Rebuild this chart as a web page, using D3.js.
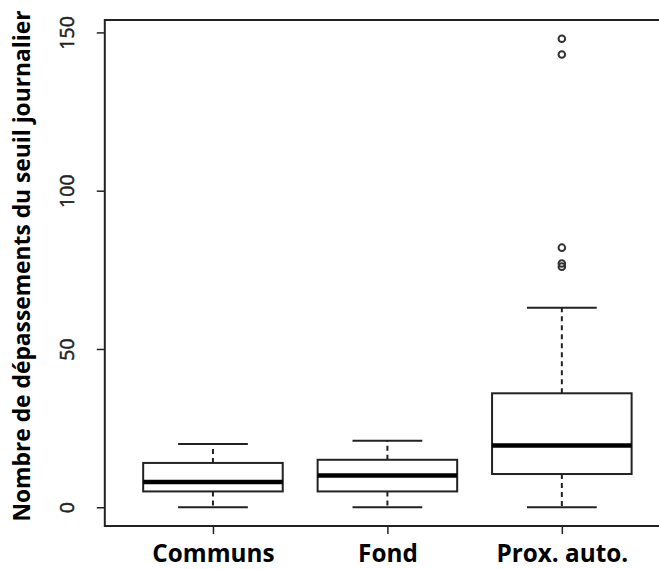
<!DOCTYPE html>
<html>
<head>
<meta charset="utf-8">
<script src="https://cdn.jsdelivr.net/npm/d3@7"></script>
<style>
  body { margin: 0; background: #fff; }
  svg { display: block; }
</style>
</head>
<body>
<div id="chart"></div>
<script>
// values
var categories = ["Communs", "Fond", "Prox. auto."];
var whiskerLow = [0, 0, 0];
var q1 = [5, 5, 10.5];
var medians = [8, 10, 19.5];
var q3 = [14, 15, 36];
var whiskerHigh = [20, 21, 63];
var outliers = [[], [], [148, 143, 82, 77, 76]];
var yTicks = [0, 50, 100, 150];

var width = 659, height = 569;
var ink = "#222";

var svg = d3.select("#chart").append("svg")
  .attr("width", width)
  .attr("height", height);

// R style: boxes at 1..n, xlim 0.5..n+0.5 padded 4%
var n = categories.length;
var xpad = n * 0.04;
var x = d3.scaleLinear()
  .domain([0.5 - xpad, n + 0.5 + xpad])
  .range([104.8, 670]);

var ypad = 148 * 0.04;
var y = d3.scaleLinear()
  .domain([0 - ypad, 148 + ypad])
  .range([526, 20]);

var boxWex = 0.8, capWex = 0.4;

var boxes = categories.map(function(c, i) {
  return {name: c, pos: i + 1, lo: whiskerLow[i], q1: q1[i], med: medians[i], q3: q3[i], hi: whiskerHigh[i], out: outliers[i]};
});

var g = svg.selectAll(".box")
  .data(boxes)
  .enter().append("g")
  .attr("class", "box");

// dashed whiskers
g.append("line")
  .attr("x1", function(d) { return x(d.pos); })
  .attr("x2", function(d) { return x(d.pos); })
  .attr("y1", function(d) { return y(d.q3); })
  .attr("y2", function(d) { return y(d.hi); })
  .style("stroke", ink).style("stroke-width", 2).style("stroke-dasharray", "5,4");
g.append("line")
  .attr("x1", function(d) { return x(d.pos); })
  .attr("x2", function(d) { return x(d.pos); })
  .attr("y1", function(d) { return y(d.q1); })
  .attr("y2", function(d) { return y(d.lo); })
  .style("stroke", ink).style("stroke-width", 2).style("stroke-dasharray", "5,4");

// caps
["lo", "hi"].forEach(function(k) {
  g.append("line")
    .attr("x1", function(d) { return x(d.pos - capWex / 2); })
    .attr("x2", function(d) { return x(d.pos + capWex / 2); })
    .attr("y1", function(d) { return y(d[k]); })
    .attr("y2", function(d) { return y(d[k]); })
    .style("stroke", ink).style("stroke-width", 2);
});

// box
g.append("rect")
  .attr("x", function(d) { return x(d.pos - boxWex / 2); })
  .attr("width", function(d) { return x(d.pos + boxWex / 2) - x(d.pos - boxWex / 2); })
  .attr("y", function(d) { return y(d.q3); })
  .attr("height", function(d) { return y(d.q1) - y(d.q3); })
  .style("fill", "#fff").style("stroke", ink).style("stroke-width", 2);

// median
g.append("line")
  .attr("x1", function(d) { return x(d.pos - boxWex / 2); })
  .attr("x2", function(d) { return x(d.pos + boxWex / 2); })
  .attr("y1", function(d) { return y(d.med); })
  .attr("y2", function(d) { return y(d.med); })
  .style("stroke", "#000").style("stroke-width", 4.5);

// outliers
g.selectAll(".out")
  .data(function(d) { return d.out.map(function(v) { return {pos: d.pos, v: v}; }); })
  .enter().append("circle")
  .attr("cx", function(d) { return x(d.pos); })
  .attr("cy", function(d) { return y(d.v); })
  .attr("r", 3.3)
  .style("fill", "none").style("stroke", "#333").style("stroke-width", 2);

// frame
svg.append("rect")
  .attr("x", x.range()[0])
  .attr("y", y.range()[1])
  .attr("width", x.range()[1] - x.range()[0])
  .attr("height", y.range()[0] - y.range()[1])
  .style("fill", "none").style("stroke", ink).style("stroke-width", 2);

// y axis
var yAxis = svg.append("g")
  .attr("transform", "translate(" + x.range()[0] + ",0)")
  .call(d3.axisLeft(y).tickValues(yTicks).tickSize(8).tickFormat(d3.format("d")));
yAxis.select(".domain").remove();
yAxis.selectAll("line").style("stroke", ink).style("stroke-width", 1.5);
yAxis.selectAll("text")
  .attr("transform", "translate(-38,0) rotate(-90)")
  .attr("x", 0).attr("y", 0).attr("dy", "0.35em")
  .style("text-anchor", "middle")
  .style("font-family", "'Open Sans', sans-serif")
  .style("font-size", "19.5px")
  .style("fill", "#222")
  .style("stroke", "#222")
  .style("stroke-width", 0.5);

// x axis
var xAxis = svg.append("g")
  .attr("transform", "translate(0," + y.range()[0] + ")")
  .call(d3.axisBottom(x).tickValues(boxes.map(function(d) { return d.pos; })).tickSize(8)
    .tickFormat(function(d) { return categories[d - 1]; }));
xAxis.select(".domain").remove();
xAxis.selectAll("line").style("stroke", ink).style("stroke-width", 1.5);
xAxis.selectAll("text")
  .attr("y", 27).attr("dy", "0.35em")
  .style("font-family", "'Open Sans', sans-serif")
  .style("font-weight", "bold")
  .style("font-size", "24.3px")
  .style("fill", "#000");

// axis title
svg.append("text")
  .attr("transform", "translate(22,266) rotate(-90)")
  .attr("dy", "0.35em")
  .style("text-anchor", "middle")
  .style("font-family", "'Open Sans', sans-serif")
  .style("font-weight", "bold")
  .style("font-size", "22.8px")
  .text("Nombre de dépassements du seuil journalier");
</script>
</body>
</html>
